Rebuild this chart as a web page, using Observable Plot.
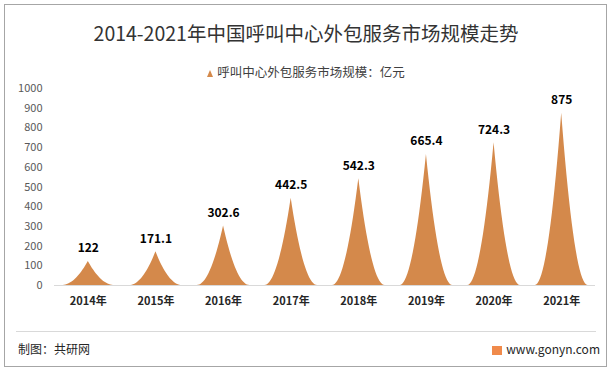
<!DOCTYPE html>
<html><head><meta charset="utf-8">
<script src="https://cdn.jsdelivr.net/npm/d3@7"></script>
<script src="https://cdn.jsdelivr.net/npm/@observablehq/plot@0.6"></script>
<style>
body{margin:0;background:#fff;font-family:"Noto Sans CJK SC","Noto Sans",sans-serif;}
#wrap{position:relative;width:612px;height:373px;overflow:hidden;background:#fff;}
#frame{position:absolute;left:4px;top:4px;width:603px;height:363px;border:1px solid #a6a6a6;box-sizing:border-box;}
#title{position:absolute;left:0;width:612px;top:20px;text-align:center;font-size:19.5px;color:#333;line-height:26px;}
#legend{position:absolute;left:0;width:612px;top:63px;text-align:center;font-size:12.5px;color:#404040;line-height:18px;}
#legend .tri{display:inline-block;width:0;height:0;border-left:3.5px solid transparent;border-right:3.5px solid transparent;border-bottom:7px solid #d4894b;margin-right:4px;vertical-align:0px;}
#chart{position:absolute;left:0;top:78px;}
#sep{position:absolute;left:16px;width:580px;top:331px;height:0;border-top:1px solid #d9d9d9;}
#src{position:absolute;left:18px;top:340px;font-size:12px;color:#262626;line-height:18px;}
#site{position:absolute;right:12px;top:340px;font-size:12px;color:#262626;line-height:18px;}
#site .ic{display:inline-block;width:10px;height:9px;background:#f08a4b;margin-right:4px;vertical-align:-1px;}
</style></head>
<body>
<div id="wrap">
  <div id="frame"></div>
  <div id="title">2014-2021年中国呼叫中心外包服务市场规模走势</div>
  <div id="legend"><span class="tri"></span>呼叫中心外包服务市场规模：亿元</div>
  <div id="chart"></div>
  <div id="sep"></div>
  <div id="src">制图：共研网</div>
  <div id="site"><span class="ic"></span>www.gonyn.com</div>
</div>
<script>
const years = ["2014年","2015年","2016年","2017年","2018年","2019年","2020年","2021年"];
const values = [122, 171.1, 302.6, 442.5, 542.3, 665.4, 724.3, 875];
const yTicks = [0,100,200,300,400,500,600,700,800,900,1000];
const color = "#d4894b";

// spike outline for each category (shape geometry scaled by each value)
const halfWidth = 0.39;
const steps = d3.range(-20, 21).map(k => k / 20);
const shape = [];
values.forEach((v, i) => {
  steps.forEach(u => shape.push({k: i, x: i + u * halfWidth, y: v * Math.pow(1 - Math.abs(u), 2)}));
});

const chart = Plot.plot({
  width: 612,
  height: 240,
  marginTop: 10,
  marginBottom: 33,
  marginLeft: 54,
  marginRight: 17,
  style: {fontFamily: '"Noto Sans CJK SC","Noto Sans",sans-serif', background: "transparent"},
  x: {domain: [-0.5, 7.5]},
  y: {domain: [0, 1000]},
  marks: [
    Plot.ruleY([0], {stroke: "#d9d9d9", strokeWidth: 1}),
    Plot.areaY(shape, {x: "x", y: "y", z: "k", fill: color, curve: "linear"}),
    Plot.text(values, {x: (d, i) => i, y: d => d, text: d => String(d), dy: -13, fontWeight: "bold", fontSize: 12, fill: "#000"}),
    Plot.axisY(yTicks, {tickSize: 0, tickPadding: 12, tickFormat: d => String(d), fontSize: 11, fill: "#595959", label: null}),
    Plot.axisX(d3.range(years.length), {tickSize: 0, tickPadding: 12, tickFormat: i => years[i], fontSize: 11, fontWeight: "bold", fill: "#262626", label: null})
  ]
});
document.getElementById("chart").appendChild(chart);
</script>
</body></html>
